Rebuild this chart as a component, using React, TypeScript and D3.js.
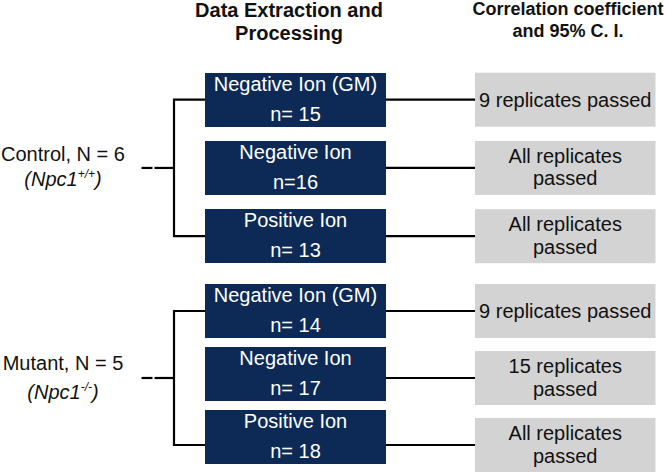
import React from "react";
import * as d3 from "d3";

// ---- data ----
const groupLabels = ["Control, N = 6", "Mutant, N = 5"];
const genotypeSup = ["+/+", "-/-"];
const methodTitles = [
  ["Negative Ion (GM)", "Negative Ion", "Positive Ion"],
  ["Negative Ion (GM)", "Negative Ion", "Positive Ion"],
];
const methodCounts = [
  ["n= 15", "n=16", "n= 13"],
  ["n= 14", "n= 17", "n= 18"],
];
const resultLines = [
  [["9 replicates passed"], ["All replicates", "passed"], ["All replicates", "passed"]],
  [["9 replicates passed"], ["15 replicates", "passed"], ["All replicates", "passed"]],
];
const headerLeft = ["Data Extraction and", "Processing"];
const headerRight = ["Correlation coefficient", "and 95% C. I."];

// ---- layout ----
const W = 667;
const H = 472;
const FONT = "'Liberation Sans', Arial, sans-serif";
const NAVY = "#0c2a55";
const GREY = "#d3d3d3";
const BOX_H = 54;

const blueRanges: [number, number][] = [
  [73, 263],
  [284, 464],
];
const greyRanges: [number, number][] = [
  [72.7, 263.2],
  [284, 472],
];

const x = d3.scaleLinear().domain([0, 1]).range([0, W]);
const blueX0 = x(205 / W);
const blueX1 = x(386 / W);
const greyX0 = x(475 / W);
const greyX1 = x(655.5 / W);
const bracketX = x(174 / W);
const dashX0 = x(141.5 / W);
const labelX = x(63 / W);

function band(r: [number, number]) {
  const n = 3;
  const gap = (r[1] - r[0] - n * BOX_H) / (n - 1);
  const step = BOX_H + gap;
  return d3
    .scaleBand<number>()
    .domain([0, 1, 2])
    .range(r)
    .paddingInner(gap / step)
    .paddingOuter(0);
}

export default function App() {
  return (
    <svg
      width={W}
      height={H}
      style={{ position: "absolute", left: 0, top: 0, background: "#fff" }}
      fontFamily={FONT}
    >
      <rect width={W} height={H} fill="#fff" />
      {/* headers */}
      <text x={289} textAnchor="middle" fontWeight="bold" fontSize={20} fill="#111">
        {headerLeft.map((t, i) => (
          <tspan key={i} x={289} y={17 + i * 22.5}>
            {t}
          </tspan>
        ))}
      </text>
      <text x={568} textAnchor="middle" fontWeight="bold" fontSize={18} fill="#111">
        {headerRight.map((t, i) => (
          <tspan key={i} x={568} y={15 + i * 21.5}>
            {t}
          </tspan>
        ))}
      </text>

      {groupLabels.map((label, g) => {
        const yb = band(blueRanges[g]);
        const yg = band(greyRanges[g]);
        const bh = yb.bandwidth();
        const gh = yg.bandwidth();
        const conn = [0, 1, 2].map((i) => (yg(i) as number) + gh / 2);
        const mid = (conn[0] + conn[2]) / 2;
        return (
          <g key={g}>
            {/* connectors */}
            <path
              d={`M${blueX0},${conn[0]}H${bracketX}V${conn[2]}H${blueX0}`}
              fill="none"
              stroke="#000"
              strokeWidth={2.2}
            />
            <line x1={dashX0} x2={dashX0 + 11} y1={mid} y2={mid} stroke="#000" strokeWidth={2.2} />
            <line x1={dashX0 + 13} x2={bracketX} y1={mid} y2={mid} stroke="#000" strokeWidth={2.2} />
            {conn.map((cy, i) => (
              <line key={i} x1={blueX1} x2={greyX0} y1={cy} y2={cy} stroke="#000" strokeWidth={2.2} />
            ))}
            {/* group label */}
            <text
              x={labelX}
              y={g === 0 ? 161 : 370}
              textAnchor="middle"
              fontSize={20}
              fill="#111"
            >
              {label}
            </text>
            <text
              x={labelX}
              y={g === 0 ? 186 : 398.5}
              textAnchor="middle"
              fontSize={20}
              fontStyle="italic"
              fill="#111"
            >
              (Npc1
              <tspan fontSize={12} dy={-8}>
                {genotypeSup[g]}
              </tspan>
              <tspan dy={8}>)</tspan>
            </text>
            {/* method boxes */}
            {methodTitles[g].map((t, i) => {
              const top = yb(i) as number;
              return (
                <g key={i}>
                  <rect x={blueX0} y={top} width={blueX1 - blueX0} height={bh} fill={NAVY} />
                  <text
                    x={(blueX0 + blueX1) / 2}
                    y={top + 18}
                    textAnchor="middle"
                    fontSize={20}
                    fill="#fff"
                  >
                    {t}
                  </text>
                  <text
                    x={(blueX0 + blueX1) / 2}
                    y={top + 48}
                    textAnchor="middle"
                    fontSize={20}
                    fill="#fff"
                  >
                    {methodCounts[g][i]}
                  </text>
                </g>
              );
            })}
            {/* result boxes */}
            {resultLines[g].map((lines, i) => {
              const top = yg(i) as number;
              const cy = top + gh / 2;
              const cx = (greyX0 + greyX1) / 2;
              return (
                <g key={i}>
                  <rect x={greyX0} y={top} width={greyX1 - greyX0} height={gh} fill={GREY} />
                  {lines.map((ln, j) => (
                    <text
                      key={j}
                      x={cx}
                      y={lines.length === 1 ? cy + 7 : cy - 5 + j * 22.5}
                      textAnchor="middle"
                      fontSize={20}
                      fill="#111"
                    >
                      {ln}
                    </text>
                  ))}
                </g>
              );
            })}
          </g>
        );
      })}
    </svg>
  );
}
